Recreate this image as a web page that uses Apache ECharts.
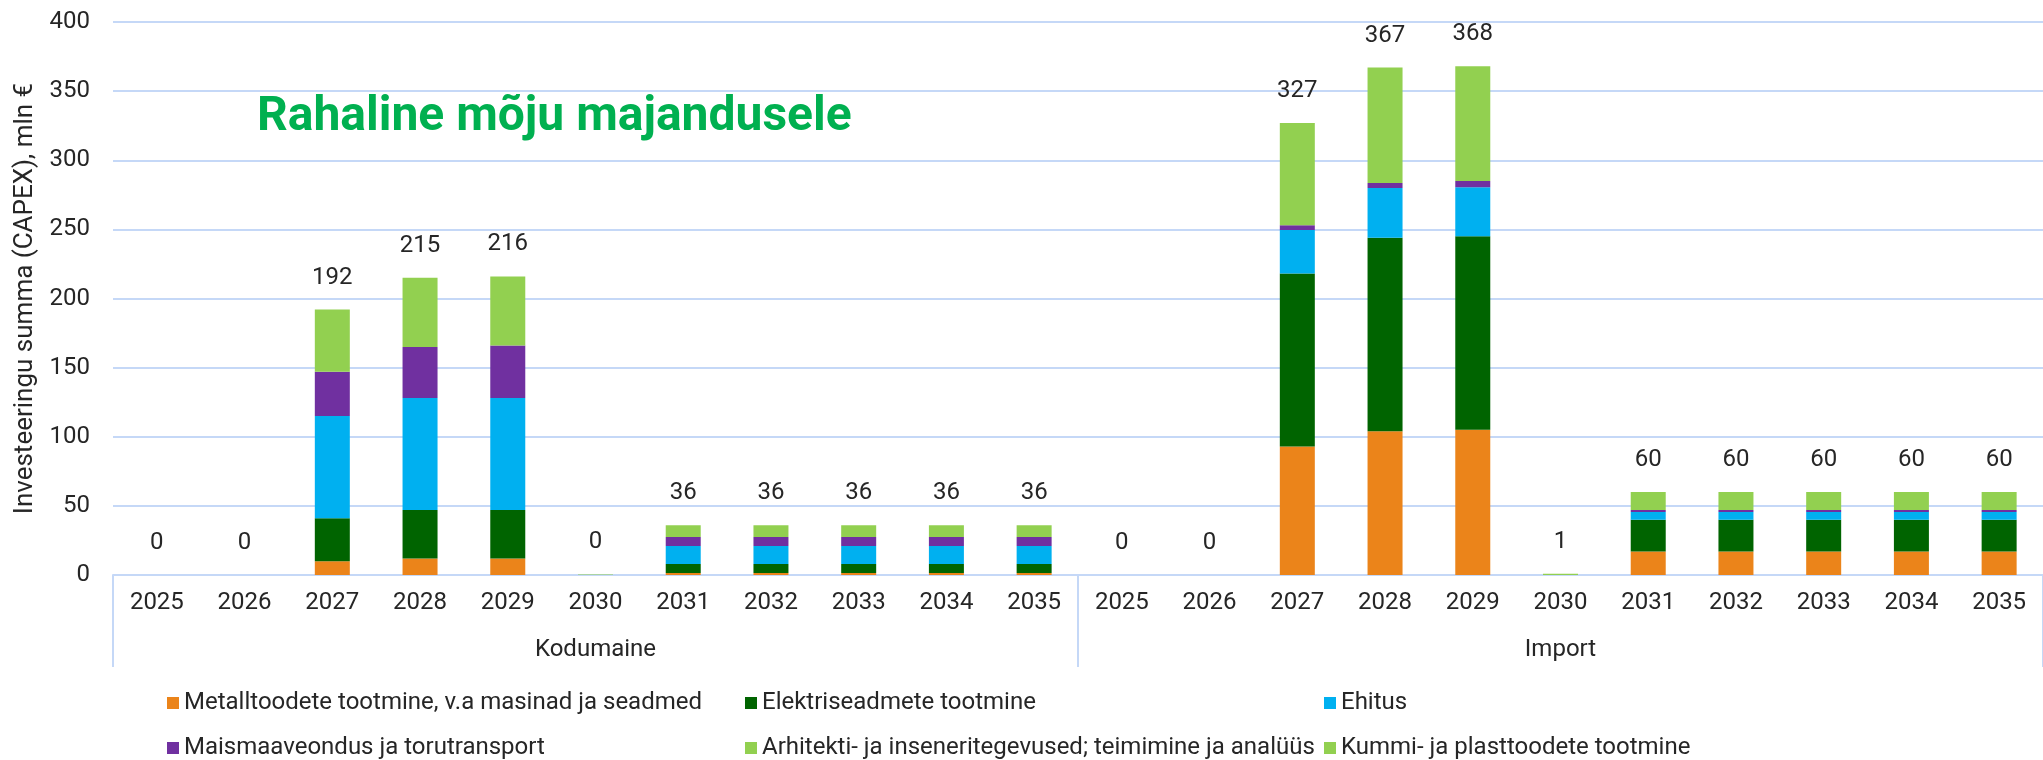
<!DOCTYPE html>
<html style="height: 100%">
<head>
    <meta charset="utf-8">
</head>
<body style="height: 100%; margin: 0">
<div id="container" style="width: 2043px; height: 760px"></div>
<script type="text/javascript" src="https://cdn.jsdelivr.net/npm/echarts@6/dist/echarts.min.js"></script>
<script type="text/javascript">
    // aastad (korduvad kahe grupi jaoks)
    var years = ['2025', '2026', '2027', '2028', '2029', '2030', '2031', '2032', '2033', '2034', '2035'];
    var groups = ['Kodumaine', 'Import'];
    var categories = years.concat(years);

    var seriesNames = [
        'Metalltoodete tootmine, v.a masinad ja seadmed',
        'Elektriseadmete tootmine',
        'Ehitus',
        'Maismaaveondus ja torutransport',
        'Arhitekti- ja inseneritegevused; teimimine ja analüüs',
        'Kummi- ja plasttoodete tootmine'
    ];
    var colors = ['#EB841A', '#006400', '#00B0F0', '#7030A0', '#92D050', '#92D050'];

    // Kodumaine 2025..2035, siis Import 2025..2035
    var metall = [0, 0, 10, 12, 12, 0, 1.5, 1.5, 1.5, 1.5, 1.5,
                  0, 0, 93, 104, 105, 0, 17, 17, 17, 17, 17];
    var elekter = [0, 0, 31, 35, 35, 0, 6.5, 6.5, 6.5, 6.5, 6.5,
                   0, 0, 125, 140, 140, 0, 23, 23, 23, 23, 23];
    var ehitus = [0, 0, 74, 81, 81, 0, 13, 13, 13, 13, 13,
                  0, 0, 31.5, 36, 35.5, 0, 5.5, 5.5, 5.5, 5.5, 5.5];
    var maismaa = [0, 0, 32, 37, 38, 0, 6.5, 6.5, 6.5, 6.5, 6.5,
                   0, 0, 3.5, 3.5, 4.5, 0, 1.5, 1.5, 1.5, 1.5, 1.5];
    var arhitekti = [0, 0, 45, 50, 50, 0.45, 8.5, 8.5, 8.5, 8.5, 8.5,
                     0, 0, 74, 83.5, 83, 0.9, 13, 13, 13, 13, 13];
    var kummi = [0, 0, 0, 0, 0, 0, 0, 0, 0, 0, 0,
                 0, 0, 0, 0, 0, 0, 0, 0, 0, 0, 0];
    var totals = [0, 0, 192, 215, 216, 0, 36, 36, 36, 36, 36,
                  0, 0, 327, 367, 368, 1, 60, 60, 60, 60, 60];

    var yTicks = [0, 50, 100, 150, 200, 250, 300, 350, 400];

    var dom = document.getElementById("container");
    var myChart = echarts.init(dom);
    var font = 'Roboto';
    var textColor = '#262626';
    var lineColor = '#C5D8F7';

    var values = [metall, elekter, ehitus, maismaa, arhitekti, kummi];
    var series = [];
    for (var i = 0; i < seriesNames.length; i++) {
        series.push({
            name: seriesNames[i],
            type: 'bar',
            stack: 'kokku',
            barWidth: 35,
            itemStyle: {color: colors[i]},
            emphasis: {disabled: true},
            data: values[i]
        });
    }
    // summa sildid virna kohal
    series.push({
        name: 'kokku',
        type: 'bar',
        stack: 'kokku',
        barWidth: 35,
        silent: true,
        itemStyle: {color: 'transparent'},
        label: {
            show: true,
            position: 'top',
            distance: 20,
            fontFamily: font,
            fontSize: 24,
            color: textColor,
            formatter: function (p) { return totals[p.dataIndex]; }
        },
        data: totals.map(function () { return 0; })
    });

    // legendid kolmes veerus
    var legendPos = [[167, 691], [745, 691], [1324, 691], [167, 736], [745, 736], [1324, 736]];
    var legends = seriesNames.map(function (n, i) {
        return {
            data: [n],
            left: legendPos[i][0],
            top: legendPos[i][1],
            padding: 0,
            icon: 'rect',
            itemWidth: 12,
            itemHeight: 12,
            selectedMode: false,
            textStyle: {fontFamily: font, fontSize: 24, color: textColor}
        };
    });

    var option = {
        animation: false,
        backgroundColor: '#ffffff',
        title: {
            text: 'Rahaline mõju majandusele',
            left: 257,
            top: 94,
            padding: 0,
            textStyle: {fontFamily: font, fontSize: 48, fontWeight: 'bold', color: '#00B050'}
        },
        legend: legends,
        grid: {left: 113, right: -8, top: 22, bottom: 185, containLabel: false},
        xAxis: [
            {
                type: 'category',
                data: categories,
                axisLine: {show: true, lineStyle: {color: lineColor, width: 2}},
                axisTick: {show: false},
                axisLabel: {margin: 16, interval: 0, fontFamily: font, fontSize: 24, color: textColor}
            },
            {
                type: 'category',
                data: groups,
                position: 'bottom',
                axisLine: {show: false},
                axisTick: {show: true, length: 92, lineStyle: {color: lineColor, width: 2}},
                axisLabel: {margin: 63, fontFamily: font, fontSize: 24, color: textColor},
                splitLine: {show: false}
            }
        ],
        yAxis: {
            type: 'value',
            min: yTicks[0],
            max: yTicks[yTicks.length - 1],
            interval: 50,
            name: 'Investeeringu summa (CAPEX), mln €',
            nameLocation: 'middle',
            nameGap: 73,
            nameTextStyle: {fontFamily: font, fontSize: 26, color: textColor},
            axisLine: {show: false},
            axisTick: {show: false},
            axisLabel: {margin: 23, fontFamily: font, fontSize: 24, color: textColor},
            splitLine: {lineStyle: {color: lineColor, width: 2}}
        },
        series: series
    };
    myChart.setOption(option, true);
</script>
</body>
</html>
